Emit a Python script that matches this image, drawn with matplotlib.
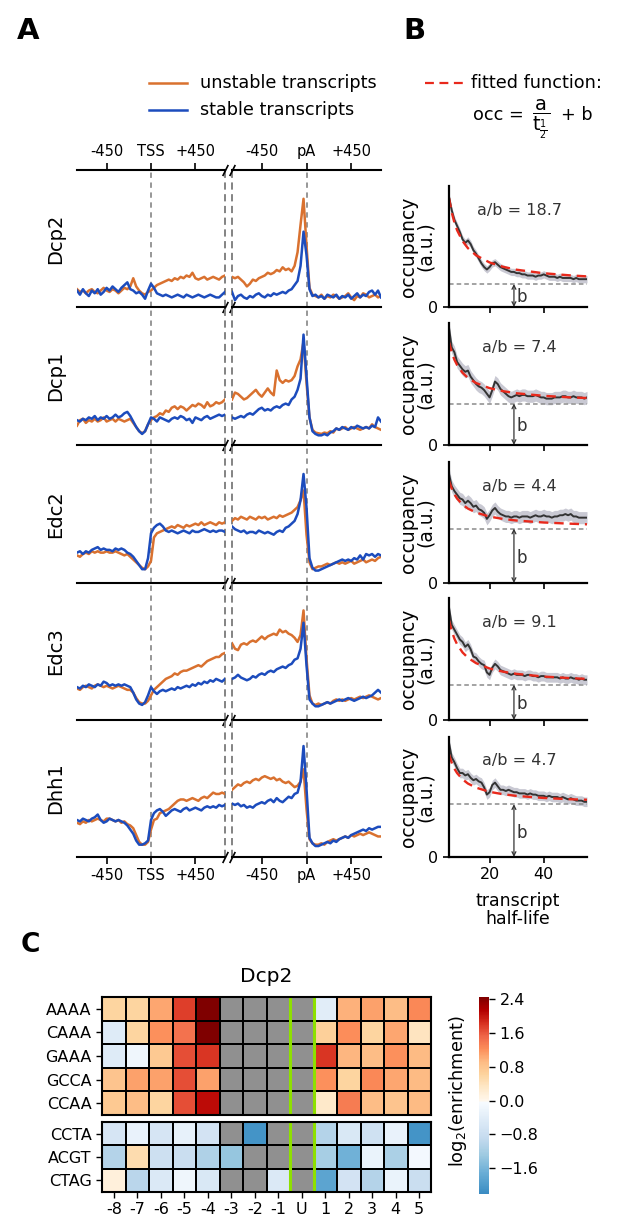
import numpy as np
import matplotlib
matplotlib.use("Agg")
import matplotlib.pyplot as plt
from matplotlib.colors import LinearSegmentedColormap
from matplotlib.lines import Line2D

# ---------------- data: panel A (metagene profiles, fraction of row height) ----------------
proteins = ["Dcp2", "Dcp1", "Edc2", "Edc3", "Dhh1"]
positions = np.arange(-750, 751, 30)   # bp around TSS / pA

dcp2_tss_unstable = [0.13,0.11,0.12,0.10,0.12,0.13,0.11,0.10,0.12,0.14, 0.12,0.11,0.13,0.12,0.10,0.12,0.14,0.13,0.15,0.21,
                     0.15,0.12,0.10,0.09,0.11,0.12, 0.14,0.16,0.17,0.18,0.19,0.20,0.19,0.21,0.20,0.22,
                     0.21,0.23,0.22,0.25,0.21,0.20,0.21,0.22,0.20,0.21, 0.22,0.21,0.20,0.22,0.23]
dcp2_tss_stable = [0.12,0.09,0.13,0.10,0.08,0.12,0.10,0.13,0.09,0.11, 0.14,0.12,0.15,0.13,0.11,0.14,0.16,0.18,0.13,0.12,
                   0.10,0.11,0.09,0.06,0.12,0.17, 0.14,0.10,0.09,0.08,0.09,0.08,0.07,0.08,0.09,0.08,
                   0.07,0.09,0.08,0.07,0.08,0.09,0.08,0.07,0.08,0.09, 0.08,0.07,0.07,0.09,0.11]
dcp2_pa_unstable = [0.22,0.21,0.22,0.20,0.18,0.15,0.17,0.20,0.19,0.21, 0.22,0.23,0.25,0.24,0.25,0.27,0.26,0.29,0.27,0.28,
                    0.26,0.30,0.40,0.60,0.79,0.45, 0.14,0.09,0.08,0.07,0.09,0.06,0.08,0.07,0.09,0.08,
                    0.06,0.07,0.08,0.10,0.07,0.05,0.08,0.07,0.10,0.09, 0.07,0.08,0.09,0.07,0.08]
dcp2_pa_stable = [0.11,0.05,0.08,0.09,0.07,0.06,0.08,0.07,0.09,0.10, 0.08,0.07,0.09,0.08,0.10,0.09,0.10,0.11,0.10,0.12,
                  0.13,0.16,0.19,0.30,0.55,0.38, 0.13,0.08,0.09,0.07,0.08,0.06,0.09,0.08,0.07,0.09,
                  0.06,0.08,0.07,0.09,0.06,0.08,0.10,0.07,0.09,0.08, 0.11,0.12,0.09,0.12,0.07]

dcp1_tss_unstable = [0.14,0.18,0.19,0.16,0.18,0.17,0.19,0.17,0.18,0.20, 0.17,0.18,0.19,0.17,0.19,0.18,0.17,0.18,0.19,0.16,
                     0.13,0.10,0.085,0.10,0.15,0.18, 0.20,0.21,0.23,0.22,0.25,0.24,0.27,0.28,0.26,0.28,
                     0.27,0.25,0.27,0.29,0.28,0.30,0.29,0.27,0.31,0.28, 0.29,0.31,0.30,0.31,0.33]
dcp1_tss_stable = [0.18,0.17,0.19,0.18,0.20,0.19,0.21,0.18,0.20,0.19, 0.21,0.19,0.20,0.22,0.20,0.21,0.23,0.24,0.21,0.17,
                   0.13,0.10,0.08,0.10,0.15,0.20, 0.19,0.17,0.20,0.19,0.18,0.17,0.19,0.20,0.19,0.21,
                   0.20,0.18,0.19,0.16,0.20,0.19,0.18,0.20,0.21,0.19, 0.20,0.21,0.22,0.21,0.22]
dcp1_pa_unstable = [0.33,0.38,0.37,0.35,0.33,0.34,0.36,0.38,0.40,0.37, 0.35,0.38,0.41,0.38,0.36,0.54,0.47,0.45,0.47,0.46,
                    0.47,0.50,0.57,0.62,0.75,0.45, 0.20,0.11,0.09,0.085,0.08,0.09,0.085,0.10,0.09,0.12,
                    0.11,0.12,0.13,0.11,0.12,0.13,0.12,0.11,0.12,0.13, 0.12,0.15,0.13,0.12,0.11]
dcp1_pa_stable = [0.20,0.19,0.20,0.21,0.20,0.22,0.23,0.22,0.24,0.26, 0.27,0.25,0.26,0.25,0.27,0.28,0.27,0.29,0.30,0.29,
                  0.33,0.35,0.40,0.48,0.80,0.50, 0.20,0.10,0.08,0.07,0.07,0.08,0.07,0.09,0.10,0.12,
                  0.11,0.13,0.12,0.11,0.13,0.12,0.14,0.13,0.12,0.13, 0.12,0.14,0.13,0.20,0.17]

edc2_tss_unstable = [0.20,0.19,0.21,0.22,0.21,0.23,0.22,0.23,0.22,0.22, 0.23,0.22,0.22,0.23,0.22,0.21,0.20,0.21,0.19,0.17,
                     0.15,0.13,0.11,0.10,0.12,0.16, 0.33,0.36,0.37,0.38,0.39,0.40,0.41,0.40,0.42,0.41,
                     0.40,0.42,0.41,0.42,0.43,0.42,0.44,0.42,0.43,0.44, 0.43,0.42,0.44,0.43,0.44]
edc2_tss_stable = [0.22,0.23,0.21,0.23,0.22,0.24,0.25,0.26,0.24,0.25, 0.24,0.24,0.23,0.25,0.24,0.25,0.24,0.22,0.21,0.19,
                   0.16,0.13,0.10,0.10,0.18,0.36, 0.40,0.42,0.43,0.41,0.38,0.37,0.38,0.37,0.36,0.37,
                   0.38,0.37,0.36,0.38,0.37,0.37,0.38,0.39,0.38,0.37, 0.38,0.37,0.38,0.38,0.37]
edc2_pa_unstable = [0.45,0.47,0.46,0.48,0.47,0.46,0.48,0.47,0.46,0.48, 0.47,0.48,0.46,0.47,0.48,0.47,0.49,0.48,0.49,0.50,
                    0.51,0.53,0.55,0.60,0.67,0.35, 0.15,0.10,0.11,0.12,0.12,0.13,0.14,0.13,0.14,0.15,
                    0.14,0.15,0.14,0.15,0.16,0.14,0.15,0.16,0.17,0.15, 0.16,0.17,0.16,0.18,0.19]
edc2_pa_stable = [0.41,0.39,0.38,0.37,0.38,0.36,0.37,0.37,0.36,0.38, 0.37,0.36,0.37,0.36,0.35,0.37,0.38,0.37,0.40,0.41,
                  0.43,0.45,0.50,0.60,0.79,0.55, 0.18,0.11,0.09,0.09,0.10,0.11,0.12,0.13,0.14,0.15,
                  0.16,0.17,0.16,0.17,0.16,0.18,0.17,0.20,0.17,0.21, 0.20,0.21,0.19,0.21,0.20]

edc3_tss_unstable = [0.23,0.22,0.24,0.25,0.24,0.23,0.25,0.26,0.25,0.24, 0.25,0.24,0.23,0.24,0.25,0.24,0.23,0.22,0.22,0.20,
                     0.16,0.13,0.12,0.12,0.14,0.18, 0.22,0.24,0.26,0.28,0.30,0.31,0.32,0.34,0.33,0.35,
                     0.36,0.36,0.37,0.38,0.39,0.40,0.39,0.41,0.43,0.44, 0.45,0.46,0.46,0.48,0.49]
edc3_tss_stable = [0.24,0.23,0.25,0.24,0.26,0.25,0.24,0.26,0.25,0.28, 0.27,0.25,0.26,0.25,0.26,0.25,0.26,0.25,0.24,0.20,
                   0.15,0.12,0.11,0.13,0.18,0.24, 0.21,0.19,0.21,0.22,0.21,0.22,0.23,0.22,0.24,0.23,
                   0.24,0.25,0.24,0.26,0.25,0.27,0.26,0.28,0.27,0.29, 0.28,0.30,0.29,0.28,0.30]
edc3_pa_unstable = [0.56,0.52,0.51,0.55,0.56,0.55,0.57,0.58,0.57,0.59, 0.61,0.59,0.61,0.62,0.63,0.62,0.66,0.64,0.65,0.63,
                    0.62,0.60,0.57,0.62,0.80,0.45, 0.18,0.12,0.11,0.12,0.11,0.12,0.13,0.12,0.14,0.15,
                    0.14,0.15,0.14,0.15,0.16,0.15,0.16,0.17,0.16,0.17, 0.18,0.17,0.16,0.15,0.16]
edc3_pa_stable = [0.30,0.31,0.33,0.31,0.30,0.29,0.30,0.32,0.31,0.33, 0.34,0.33,0.35,0.36,0.35,0.37,0.38,0.39,0.38,0.40,
                  0.41,0.44,0.45,0.52,0.71,0.40, 0.15,0.12,0.10,0.10,0.11,0.12,0.13,0.12,0.13,0.14,
                  0.15,0.14,0.15,0.16,0.15,0.14,0.15,0.16,0.17,0.16, 0.17,0.18,0.20,0.22,0.20]

dhh1_tss_unstable = [0.25,0.24,0.26,0.25,0.27,0.26,0.27,0.28,0.27,0.26, 0.28,0.28,0.27,0.26,0.27,0.25,0.26,0.24,0.23,0.21,
                     0.16,0.11,0.09,0.09,0.11,0.20, 0.27,0.28,0.32,0.33,0.34,0.35,0.37,0.39,0.41,0.42,
                     0.42,0.41,0.42,0.43,0.42,0.41,0.43,0.44,0.43,0.45, 0.47,0.46,0.46,0.47,0.46]
dhh1_tss_stable = [0.27,0.26,0.28,0.27,0.26,0.28,0.29,0.31,0.27,0.25, 0.26,0.28,0.27,0.26,0.27,0.26,0.25,0.23,0.20,0.17,
                   0.12,0.09,0.09,0.10,0.12,0.27, 0.32,0.34,0.35,0.33,0.30,0.32,0.34,0.35,0.34,0.33,
                   0.35,0.36,0.34,0.35,0.36,0.35,0.34,0.36,0.37,0.36, 0.37,0.36,0.38,0.37,0.38]
dhh1_pa_unstable = [0.49,0.51,0.53,0.52,0.54,0.55,0.54,0.56,0.57,0.56, 0.58,0.59,0.58,0.57,0.58,0.56,0.57,0.55,0.54,0.55,
                    0.53,0.51,0.52,0.55,0.64,0.35, 0.13,0.10,0.09,0.09,0.10,0.09,0.11,0.12,0.13,0.12,
                    0.13,0.14,0.15,0.14,0.16,0.15,0.16,0.17,0.16,0.17, 0.18,0.17,0.16,0.15,0.15]
dhh1_pa_stable = [0.39,0.38,0.39,0.37,0.38,0.36,0.37,0.36,0.38,0.39, 0.40,0.39,0.41,0.42,0.40,0.43,0.41,0.40,0.42,0.44,
                  0.43,0.46,0.47,0.55,0.81,0.50, 0.14,0.10,0.08,0.08,0.09,0.10,0.11,0.10,0.12,0.11,
                  0.13,0.14,0.15,0.14,0.16,0.17,0.18,0.19,0.20,0.19, 0.21,0.20,0.21,0.22,0.22]

# ---------------- data: panel B (occupancy vs half-life) ----------------
halflife = np.arange(5, 57)
fit_halflife = [5, 6, 7, 8, 10, 12, 15, 20, 25, 30, 40, 50, 56]
ratio_ab = [18.7, 7.4, 4.4, 9.1, 4.7]
baseline_b = [0.19, 0.34, 0.45, 0.29, 0.44]
band_width = [0.03, 0.05, 0.05, 0.04, 0.04]

dcp2_occ = [0.91,0.80,0.72,0.67,0.62,0.56,0.53,0.55,0.52,0.47,0.44,0.40,0.36,0.33,0.31,0.33,0.36,0.37,0.35,0.33,
            0.32,0.31,0.30,0.29,0.29,0.28,0.28,0.27,0.27,0.26,0.26,0.26,0.25,0.26,0.26,0.27,0.26,0.25,0.25,0.25,
            0.24,0.25,0.24,0.24,0.24,0.24,0.23,0.24,0.23,0.23,0.23,0.23]
dcp1_occ = [0.96,0.80,0.76,0.68,0.65,0.62,0.60,0.61,0.56,0.53,0.50,0.48,0.47,0.45,0.42,0.39,0.45,0.52,0.50,0.46,
            0.44,0.42,0.40,0.39,0.40,0.41,0.40,0.41,0.41,0.40,0.40,0.40,0.41,0.40,0.39,0.39,0.38,0.38,0.38,0.39,
            0.39,0.39,0.40,0.40,0.39,0.39,0.40,0.39,0.39,0.39,0.38,0.39]
edc2_occ = [0.90,0.80,0.76,0.73,0.70,0.69,0.66,0.68,0.66,0.63,0.64,0.61,0.60,0.58,0.53,0.56,0.60,0.62,0.59,0.57,
            0.56,0.55,0.55,0.54,0.55,0.55,0.54,0.55,0.55,0.55,0.54,0.55,0.56,0.55,0.55,0.56,0.55,0.55,0.54,0.55,
            0.55,0.56,0.56,0.57,0.56,0.57,0.55,0.55,0.54,0.54,0.54,0.54]
edc3_occ = [0.92,0.78,0.74,0.70,0.66,0.64,0.60,0.62,0.58,0.52,0.51,0.48,0.46,0.45,0.39,0.37,0.43,0.46,0.44,0.41,
            0.40,0.39,0.38,0.37,0.38,0.37,0.37,0.37,0.36,0.37,0.37,0.36,0.36,0.35,0.36,0.36,0.35,0.35,0.35,0.35,
            0.35,0.34,0.35,0.34,0.34,0.35,0.34,0.34,0.33,0.34,0.33,0.33]
dhh1_occ = [0.95,0.83,0.79,0.74,0.70,0.70,0.68,0.69,0.66,0.64,0.65,0.63,0.62,0.58,0.52,0.54,0.60,0.62,0.59,0.56,
            0.56,0.55,0.56,0.55,0.54,0.54,0.53,0.53,0.53,0.52,0.53,0.52,0.52,0.51,0.51,0.51,0.50,0.51,0.50,0.50,
            0.50,0.49,0.50,0.49,0.48,0.49,0.48,0.47,0.47,0.47,0.46,0.46]

dcp2_fit = [0.900,0.782,0.698,0.634,0.545,0.486,0.427,0.368,0.332,0.308,0.279,0.261,0.253]
dcp1_fit = [0.843,0.759,0.699,0.655,0.592,0.550,0.508,0.466,0.441,0.424,0.403,0.390,0.385]
edc2_fit = [0.846,0.780,0.733,0.698,0.648,0.615,0.582,0.549,0.529,0.516,0.500,0.490,0.485]
edc3_fit = [0.818,0.730,0.667,0.620,0.554,0.510,0.466,0.422,0.396,0.378,0.356,0.343,0.337]
dhh1_fit = [0.854,0.785,0.735,0.699,0.647,0.612,0.578,0.543,0.523,0.509,0.492,0.481,0.477]

# ---------------- data: panel C (log2 enrichment heatmap) ----------------
nan = np.nan
motifs_top = ["AAAA", "CAAA", "GAAA", "GCCA", "CCAA"]
motifs_bottom = ["CCTA", "ACGT", "CTAG"]
motif_positions = ["-8", "-7", "-6", "-5", "-4", "-3", "-2", "-1", "U", "1", "2", "3", "4", "5"]
enrich_top = [
    [0.60, 0.60, 1.05, 1.75, 2.45, nan, nan, nan, nan, -0.40, 0.98, 1.10, 0.90, 1.25],
    [-0.45, 0.60, 1.20, 1.42, 2.45, nan, nan, nan, nan, 0.65, 1.22, 0.60, 1.05, 0.37],
    [-0.45, -0.18, 0.75, 1.65, 1.80, nan, nan, nan, nan, 1.80, 0.95, 0.90, 1.20, 0.92],
    [0.80, 1.10, 1.10, 1.65, 1.10, nan, nan, nan, nan, 1.20, 0.60, 1.25, 1.05, 0.92],
    [0.75, 0.90, 0.60, 1.65, 2.05, nan, nan, nan, nan, 0.30, 1.35, 0.90, 0.80, 0.92],
]
enrich_bottom = [
    [-0.60, -0.27, -0.60, -0.30, -0.65, nan, -2.10, nan, nan, -1.05, -0.55, -0.70, -0.27, -2.10],
    [-1.05, 0.50, -0.75, -0.80, -1.10, -1.35, nan, nan, nan, -1.20, -1.65, -0.25, -1.15, -0.10],
    [0.15, -1.00, -0.50, -0.18, -0.55, nan, nan, -0.50, nan, -1.85, -0.65, -1.05, -0.25, -0.80],
]

# ---------------- layout helpers (pixel coords, origin top-left) ----------------
W, H = 617, 1232
fig = plt.figure(figsize=(W / 100, H / 100), dpi=100)


def box(x0, y0, x1, y1):
    return [x0 / W, 1 - y1 / H, (x1 - x0) / W, (y1 - y0) / H]


def fx(x):
    return x / W


def fy(y):
    return 1 - y / H


ORANGE = "#d9712f"
BLUE = "#1c4cbd"
GREY = "#7a7a7a"

profiles = {
    "Dcp2": (dcp2_tss_unstable, dcp2_tss_stable, dcp2_pa_unstable, dcp2_pa_stable),
    "Dcp1": (dcp1_tss_unstable, dcp1_tss_stable, dcp1_pa_unstable, dcp1_pa_stable),
    "Edc2": (edc2_tss_unstable, edc2_tss_stable, edc2_pa_unstable, edc2_pa_stable),
    "Edc3": (edc3_tss_unstable, edc3_tss_stable, edc3_pa_unstable, edc3_pa_stable),
    "Dhh1": (dhh1_tss_unstable, dhh1_tss_stable, dhh1_pa_unstable, dhh1_pa_stable),
}
occupancy = [dcp2_occ, dcp1_occ, edc2_occ, edc3_occ, dhh1_occ]
fits = [dcp2_fit, dcp1_fit, edc2_fit, edc3_fit, dhh1_fit]

a_tops = [170, 307, 445, 583, 720]
a_bots = [307, 445, 583, 720, 857]
b_tops = [186, 323, 462, 598, 737]

brk = dict(marker=[(-0.5, -1), (0.5, 1)], markersize=8, linestyle="none",
           color="k", mec="k", mew=1.2, clip_on=False)

# ---------------- panel A ----------------
for k, name in enumerate(proteins):
    tss_u, tss_s, pa_u, pa_s = profiles[name]
    top, bot = a_tops[k], a_bots[k]
    axL = fig.add_axes(box(77, top, 225, bot))
    axR = fig.add_axes(box(232, top, 381, bot))
    for ax, uns, sta, mid, edge, side in [(axL, tss_u, tss_s, "TSS", 750, 1),
                                          (axR, pa_u, pa_s, "pA", -750, 0)]:
        ax.patch.set_alpha(0)
        ax.axvline(0, color=GREY, lw=1.1, ls=(0, (3.5, 3)), zorder=0)
        ax.axvline(edge, color=GREY, lw=1.3, ls=(0, (4, 2.5)), zorder=0, clip_on=False)
        ax.plot(positions, uns, color=ORANGE, lw=1.8)
        ax.plot(positions, sta, color=BLUE, lw=1.8)
        ax.set_xlim(-750, 750)
        ax.set_ylim(0, 1)
        ax.set_yticks([])
        for s in ["left", "right"]:
            ax.spines[s].set_visible(False)
        ax.spines["top"].set_visible(k == 0)
        ax.spines["top"].set_linewidth(1.5)
        ax.spines["bottom"].set_linewidth(1.5)
        ax.tick_params(axis="x", length=5, width=1.2, labelsize=10.5, pad=3)
        if k == 0:
            ax.xaxis.set_ticks_position("top")
            ax.set_xticks([-450, 0, 450], ["-450", mid, "+450"])
            ax.plot([side], [1], transform=ax.transAxes, **brk)
        elif k == len(proteins) - 1:
            ax.set_xticks([-450, 0, 450], ["-450", mid, "+450"])
        else:
            ax.set_xticks([])
        ax.plot([side], [0], transform=ax.transAxes, **brk)
    fig.text(fx(56), fy((top + bot) / 2), name, rotation=90, ha="center", va="center", fontsize=14)

# legend A
fig.add_artist(Line2D([fx(149), fx(187)], [fy(83), fy(83)], color=ORANGE, lw=1.8))
fig.add_artist(Line2D([fx(149), fx(187)], [fy(110), fy(110)], color=BLUE, lw=1.8))
fig.text(fx(200), fy(83), "unstable transcripts", va="center", fontsize=12.7)
fig.text(fx(200), fy(110), "stable transcripts", va="center", fontsize=12.7)

# ---------------- panel B ----------------
RED = "#e8291c"
for k in range(5):
    ax = fig.add_axes(box(449, b_tops[k], 587, a_bots[k]))
    occ = np.array(occupancy[k])
    bw = band_width[k]
    b = baseline_b[k]
    ax.fill_between(halflife, occ - bw, occ + bw, color="#c9c9d3", lw=0)
    ax.plot(halflife, occ, color="#333333", lw=1.4)
    ax.plot(fit_halflife, fits[k], color=RED, lw=1.7, ls=(0, (4, 2.5)))
    ax.axhline(b, color="#8a8a8a", lw=1.1, ls=(0, (3, 2)))
    ax.annotate("", xy=(29, 0), xytext=(29, b),
                arrowprops=dict(arrowstyle="<->", color="#333333", lw=0.9,
                                shrinkA=0, shrinkB=0, mutation_scale=7))
    ax.text(30, b * 0.45, "b", fontsize=12, color="#333333", va="center")
    ax.text(31, 0.80, f"a/b = {ratio_ab[k]}", ha="center", va="center", fontsize=11.5, color="#333333")
    ax.set_xlim(5, 56)
    ax.set_ylim(0, 1)
    for s in ["top", "right"]:
        ax.spines[s].set_visible(False)
    for s in ["left", "bottom"]:
        ax.spines[s].set_linewidth(1.6)
    ax.set_yticks([0])
    ax.tick_params(length=4, width=1.2, labelsize=11.5)
    if k == 4:
        ax.set_xticks([20, 40])
    else:
        ax.set_xticks([20, 40], ["", ""])
    fig.text(fx(417), fy((b_tops[k] + a_bots[k]) / 2), "occupancy\n(a.u.)", rotation=90,
             ha="center", va="center", fontsize=13.5, linespacing=0.9)

fig.text(fx(518), fy(910), "transcript\nhalf-life", ha="center", va="center", fontsize=12.5, linespacing=1.0)

# legend B
fig.add_artist(Line2D([fx(425), fx(465)], [fy(83), fy(83)], color=RED, lw=1.6, ls=(0, (4, 2.5))))
fig.text(fx(471), fy(83), "fitted function:", va="center", fontsize=12.7)
fig.text(fx(473), fy(115), "occ = ", va="center", fontsize=12.7)
fig.text(fx(532), fy(119), r"$\dfrac{\mathrm{a}}{\mathrm{t}_{\frac{1}{2}}}$", va="center", fontsize=14)
fig.text(fx(561), fy(115), "+ b", va="center", fontsize=12.7)

# ---------------- panel C ----------------
vmin, vmax = -2.21, 2.45
zero = -vmin / (vmax - vmin)
neg_cols = plt.get_cmap("Blues")(np.linspace(0.65, 0.0, 64))
pos_cols = plt.get_cmap("OrRd")(np.linspace(0.0, 1.0, 64))
nodes = np.concatenate([np.linspace(0, zero, 64, endpoint=False), np.linspace(zero, 1, 64)])
cmap = LinearSegmentedColormap.from_list("enrich", list(zip(nodes, np.vstack([neg_cols, pos_cols]))))
cmap.set_bad("#909090")

axT = fig.add_axes(box(102, 997, 431, 1115))
axB = fig.add_axes(box(102, 1122, 431, 1192))
mesh = None
for ax, data, labels in [(axT, enrich_top, motifs_top), (axB, enrich_bottom, motifs_bottom)]:
    arr = np.ma.masked_invalid(np.array(data, dtype=float))
    mesh = ax.pcolormesh(arr, cmap=cmap, vmin=vmin, vmax=vmax, edgecolors="k", linewidth=1.2)
    ax.set_xlim(0, len(motif_positions))
    ax.set_ylim(len(labels), 0)
    ax.set_yticks(np.arange(len(labels)) + 0.5, labels)
    for x in (8, 9):
        ax.axvline(x, color="#8ee000", lw=2.2)
    for s in ax.spines.values():
        s.set_linewidth(1.5)
    ax.tick_params(length=4, width=1.0, labelsize=11.5)
axT.set_xticks([])
axB.set_xticks(np.arange(len(motif_positions)) + 0.5, motif_positions)
fig.text(fx(266), fy(976), "Dcp2", ha="center", va="center", fontsize=14.5)

cax = fig.add_axes(box(479, 997, 489, 1194))
cb = fig.colorbar(mesh, cax=cax)
cb.outline.set_visible(False)
cb.set_ticks([2.4, 1.6, 0.8, 0.0, -0.8, -1.6], labels=["2.4", "1.6", "0.8", "0.0", "\u22120.8", "\u22121.6"])
cax.tick_params(length=4, width=1.0, labelsize=11.5)
fig.text(fx(458), fy(1091), r"log$_2$(enrichment)", rotation=90, ha="center", va="center", fontsize=12.8)

# panel letters
fig.text(fx(17), fy(31), "A", fontsize=21, fontweight="bold", va="center")
fig.text(fx(403), fy(31), "B", fontsize=21, fontweight="bold", va="center")
fig.text(fx(21), fy(945), "C", fontsize=19, fontweight="bold", va="center")

fig.savefig("out.png", dpi=100)
